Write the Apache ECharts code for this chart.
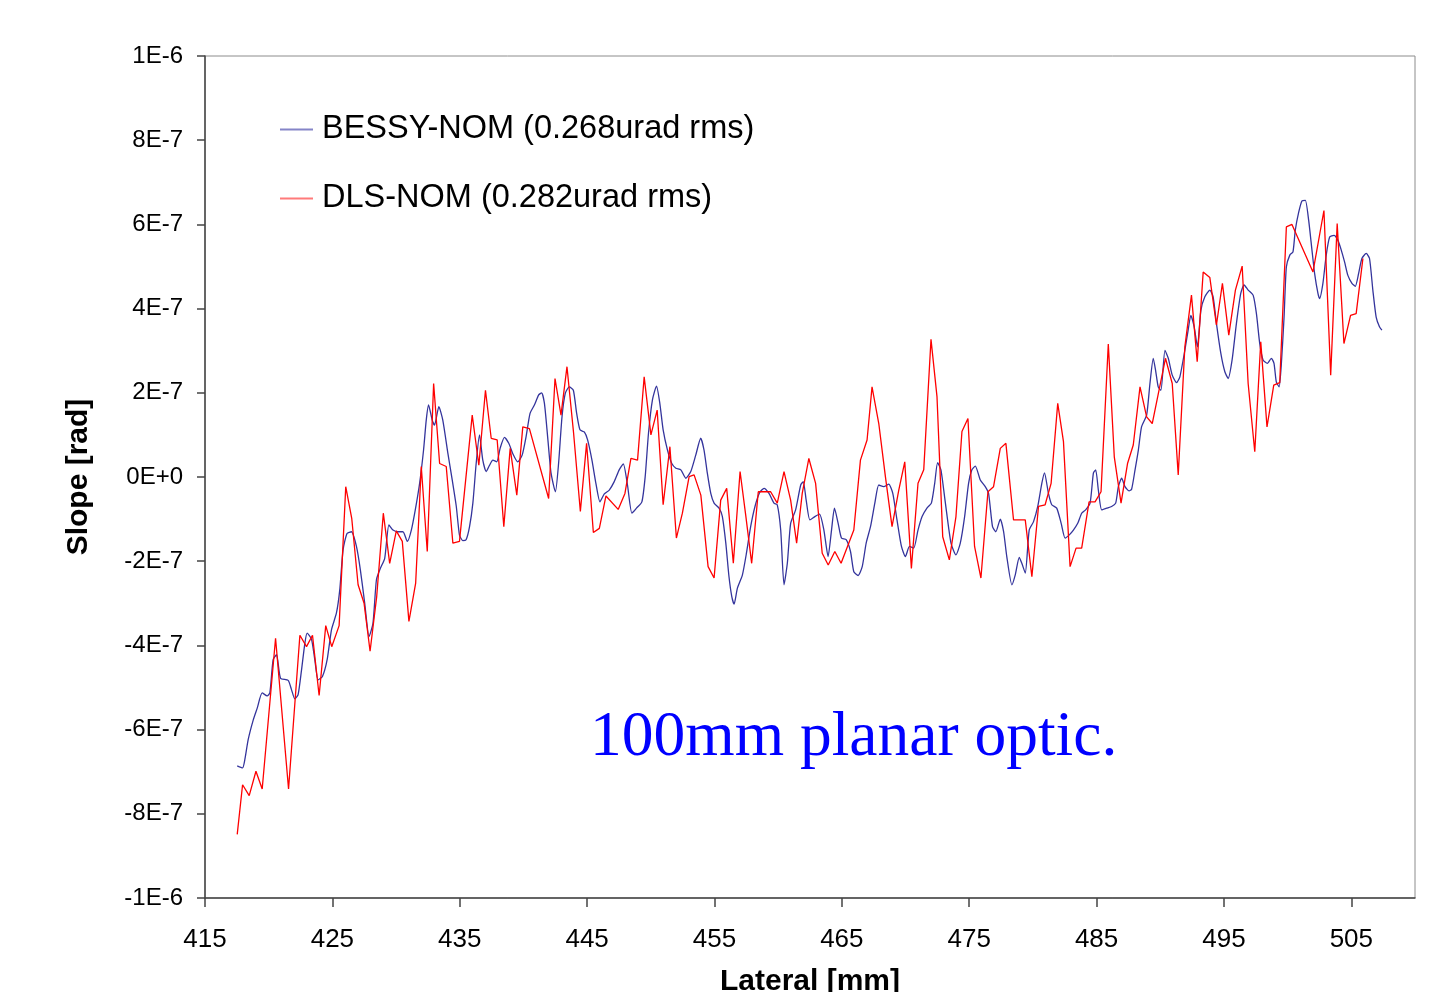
<!DOCTYPE html>
<html lang="en">
<head>
    <meta charset="UTF-8">
    <title>Slope - 100mm planar optic</title>
    <style>
        body,html{
            width: 1443px;
            height: 992px;
            margin: 0;
            background: #fff;
            overflow: hidden;
        }
        #chart{
            width: 1443px;
            height: 992px;
        }
    </style>
</head>
<body>

<div id="chart"></div>

<script src="https://cdn.jsdelivr.net/npm/echarts@6/dist/echarts.min.js"></script>
<script type="text/javascript">

    //x轴刻度
    let xTicks = [415, 425, 435, 445, 455, 465, 475, 485, 495, 505];

    //BESSY-NOM 位置 (mm) 及斜率 (rad)
    let bessyX = [
        417.53,417.95,418.13,418.39,418.79,419.10,419.49,419.88,420.09,420.35,420.62,420.93,421.53,421.79,422.05,422.31,
        422.58,422.84,423.02,423.36,423.62,423.88,424.22,424.59,424.93,425.32,425.58,425.84,426.15,426.50,426.89,427.20,
        427.54,427.88,428.19,428.46,428.77,429.11,429.44,429.76,430.15,430.54,430.89,431.20,431.51,431.85,432.16,432.37,
        432.55,432.84,433.02,433.36,433.67,434.07,434.41,434.73,434.98,435.24,435.50,435.77,436.03,436.29,436.55,436.81,
        437.08,437.34,437.60,437.91,438.17,438.51,438.85,439.16,439.55,439.90,440.21,440.52,440.86,441.20,441.43,441.65,
        441.90,442.17,442.51,442.76,443.03,443.29,443.60,443.92,444.18,444.44,444.78,445.04,445.38,445.69,446.01,446.35,
        446.74,447.13,447.52,447.84,448.17,448.52,448.88,449.30,449.56,449.82,450.13,450.45,450.71,450.97,451.31,451.65,
        451.97,452.36,452.75,453.14,453.53,453.92,454.18,454.44,454.71,454.97,455.36,455.62,455.89,456.14,456.36,456.54,
        456.80,457.19,457.51,457.84,458.18,458.55,458.89,459.28,459.67,459.93,460.20,460.46,460.72,460.98,461.37,461.77,
        461.97,462.20,462.49,462.88,463.25,463.59,463.92,464.19,464.42,464.71,464.97,465.34,465.68,465.94,466.28,466.60,
        466.91,467.25,467.59,467.90,468.29,468.68,469.00,469.33,469.68,469.99,470.31,470.64,470.98,471.30,471.68,472.03,
        472.29,472.52,472.78,473.13,473.57,473.96,474.30,474.64,474.95,475.21,475.48,475.87,476.26,476.52,476.83,477.09,
        477.44,477.70,477.95,478.35,478.61,478.93,479.13,479.40,479.71,480.05,480.38,480.70,480.91,481.22,481.48,481.87,
        482.22,482.53,482.84,483.18,483.52,483.83,484.14,484.49,484.75,484.93,485.14,485.40,485.79,486.18,486.50,486.71,
        486.97,487.23,487.55,487.75,488.02,488.28,488.53,488.93,489.19,489.45,489.63,489.84,490.05,490.37,490.63,490.94,
        491.28,491.54,491.93,492.19,492.40,492.66,492.92,493.19,493.50,493.89,494.15,494.41,494.76,495.07,495.33,495.64,
        495.98,496.32,496.58,496.90,497.29,497.55,497.81,498.07,498.41,498.72,498.93,499.11,499.33,499.51,499.72,499.90,
        500.17,500.42,500.60,500.87,501.13,501.39,501.65,501.91,502.12,502.38,502.51,502.77,503.03,503.30,503.64,503.95,
        504.21,504.47,504.73,505.05,505.31,505.57,505.83,506.17,506.43,506.69,506.95,507.21,507.40
    ];
    let bessyY = [
        -6.86e-7,-6.91e-7,-6.71e-7,-6.24e-7,-5.77e-7,-5.49e-7,-5.13e-7,-5.20e-7,-5.13e-7,-4.34e-7,-4.22e-7,-4.78e-7,-4.83e-7,-5.05e-7,-5.27e-7,-5.17e-7,
        -4.58e-7,-3.95e-7,-3.71e-7,-3.85e-7,-4.34e-7,-4.82e-7,-4.74e-7,-4.34e-7,-3.63e-7,-3.23e-7,-2.68e-7,-1.73e-7,-1.34e-7,-1.30e-7,-1.65e-7,-2.21e-7,
        -3.00e-7,-3.79e-7,-3.47e-7,-2.44e-7,-2.17e-7,-1.93e-7,-1.14e-7,-1.26e-7,-1.30e-7,-1.30e-7,-1.53e-7,-1.26e-7,-0.78e-7,-0.15e-7,0.64e-7,1.35e-7,
        1.71e-7,1.35e-7,1.23e-7,1.67e-7,1.35e-7,0.56e-7,-0.07e-7,-0.70e-7,-1.38e-7,-1.51e-7,-1.49e-7,-1.18e-7,-0.62e-7,0.32e-7,1.00e-7,0.40e-7,
        0.13e-7,0.28e-7,0.40e-7,0.36e-7,0.68e-7,0.94e-7,0.80e-7,0.56e-7,0.36e-7,0.52e-7,0.96e-7,1.51e-7,1.71e-7,1.95e-7,2.00e-7,1.75e-7,
        0.96e-7,0.09e-7,-0.35e-7,0.32e-7,1.43e-7,1.99e-7,2.14e-7,2.06e-7,1.51e-7,1.12e-7,1.07e-7,0.88e-7,0.40e-7,-0.15e-7,-0.59e-7,-0.40e-7,
        -0.31e-7,-0.11e-7,0.17e-7,0.31e-7,-0.19e-7,-0.86e-7,-0.74e-7,-0.59e-7,0.01e-7,1.04e-7,1.83e-7,2.16e-7,1.75e-7,1.12e-7,0.64e-7,0.32e-7,
        0.21e-7,0.17e-7,-0.03e-7,0.13e-7,0.52e-7,0.92e-7,0.64e-7,0.09e-7,-0.39e-7,-0.62e-7,-0.74e-7,-0.94e-7,-1.57e-7,-2.37e-7,-2.84e-7,-3.02e-7,
        -2.64e-7,-2.33e-7,-1.81e-7,-1.18e-7,-0.70e-7,-0.37e-7,-0.27e-7,-0.39e-7,-0.62e-7,-0.66e-7,-1.26e-7,-2.56e-7,-2.05e-7,-1.10e-7,-0.78e-7,-0.19e-7,
        -0.11e-7,-0.55e-7,-1.02e-7,-0.94e-7,-0.88e-7,-1.26e-7,-1.89e-7,-1.26e-7,-0.74e-7,-1.10e-7,-1.45e-7,-1.49e-7,-1.77e-7,-2.25e-7,-2.34e-7,-2.13e-7,
        -1.57e-7,-1.18e-7,-0.62e-7,-0.19e-7,-0.23e-7,-0.17e-7,-0.39e-7,-1.02e-7,-1.65e-7,-1.89e-7,-1.65e-7,-1.69e-7,-1.26e-7,-0.94e-7,-0.74e-7,-0.62e-7,
        -0.15e-7,0.34e-7,0.17e-7,-0.62e-7,-1.57e-7,-1.85e-7,-1.57e-7,-0.94e-7,-0.15e-7,0.17e-7,0.26e-7,-0.07e-7,-0.23e-7,-0.39e-7,-1.18e-7,-1.30e-7,
        -1.00e-7,-1.30e-7,-1.89e-7,-2.56e-7,-2.33e-7,-1.91e-7,-2.05e-7,-2.28e-7,-1.26e-7,-1.06e-7,-0.70e-7,-0.15e-7,0.10e-7,-0.39e-7,-0.66e-7,-0.74e-7,
        -1.10e-7,-1.45e-7,-1.38e-7,-1.26e-7,-1.10e-7,-0.86e-7,-0.78e-7,-0.62e-7,0.09e-7,0.17e-7,-0.31e-7,-0.78e-7,-0.74e-7,-0.70e-7,-0.62e-7,-0.23e-7,
        -0.03e-7,-0.23e-7,-0.33e-7,-0.29e-7,0.17e-7,0.64e-7,1.19e-7,1.47e-7,2.22e-7,2.82e-7,2.54e-7,2.14e-7,2.06e-7,3.01e-7,2.82e-7,2.42e-7,
        2.24e-7,2.38e-7,3.01e-7,3.49e-7,3.84e-7,3.57e-7,3.09e-7,3.96e-7,4.28e-7,4.44e-7,4.28e-7,3.65e-7,2.93e-7,2.50e-7,2.34e-7,2.78e-7,
        3.65e-7,4.36e-7,4.56e-7,4.44e-7,4.32e-7,3.88e-7,3.17e-7,2.78e-7,2.70e-7,2.82e-7,2.70e-7,2.26e-7,2.14e-7,2.70e-7,3.80e-7,4.99e-7,
        5.27e-7,5.35e-7,5.86e-7,6.29e-7,6.56e-7,6.57e-7,6.10e-7,5.39e-7,4.83e-7,4.36e-7,4.24e-7,4.60e-7,5.27e-7,5.70e-7,5.74e-7,5.62e-7,
        5.39e-7,5.11e-7,4.79e-7,4.60e-7,4.53e-7,4.83e-7,5.19e-7,5.31e-7,5.19e-7,4.44e-7,3.80e-7,3.57e-7,3.49e-7
    ];

    //DLS-NOM 位置 (mm) 及斜率 (rad)
    let dlsX = [
        417.53,417.95,418.47,419.00,419.49,420.54,421.56,422.45,422.97,423.44,423.96,424.48,424.95,425.53,426.05,426.52,
        427.02,427.49,427.96,428.48,429.00,429.50,430.02,430.49,431.01,431.54,431.98,432.45,432.95,433.42,433.94,434.46,
        434.98,435.98,436.50,437.02,437.47,437.94,438.46,438.96,439.48,439.95,440.47,441.98,442.48,442.95,443.42,443.94,
        444.47,444.96,445.49,445.96,446.48,447.44,447.97,448.44,448.96,449.48,450.01,450.50,450.97,451.50,452.01,452.48,
        453.01,453.40,453.93,454.50,454.97,455.49,455.96,456.48,457.01,457.45,457.92,458.44,459.41,459.93,460.46,460.98,
        461.45,461.89,462.41,462.94,463.46,463.93,464.45,464.94,465.94,466.46,466.98,467.37,467.90,468.42,468.94,469.47,
        469.94,470.46,470.98,471.43,472.00,472.47,472.92,473.44,473.96,474.43,474.90,475.42,475.92,476.47,476.91,477.44,
        477.88,478.48,479.40,479.92,480.44,480.96,481.43,481.95,482.40,482.92,483.39,483.83,484.41,484.88,485.35,485.92,
        486.39,486.92,487.43,487.88,488.41,488.93,489.37,490.41,490.94,491.41,491.93,492.45,492.90,493.37,493.89,494.41,
        494.88,495.38,495.90,496.43,496.90,497.42,497.89,498.38,498.91,499.38,499.90,500.34,501.99,502.85,503.38,503.89,
        504.42,504.94,505.38,505.91
    ];
    let dlsY = [
        -8.49e-7,-7.31e-7,-7.57e-7,-6.99e-7,-7.41e-7,-3.83e-7,-7.41e-7,-3.76e-7,-4.03e-7,-3.76e-7,-5.19e-7,-3.53e-7,-4.03e-7,-3.53e-7,-0.23e-7,-0.98e-7,
        -2.56e-7,-3.00e-7,-4.14e-7,-2.84e-7,-0.86e-7,-2.05e-7,-1.28e-7,-1.53e-7,-3.43e-7,-2.52e-7,0.25e-7,-1.77e-7,2.22e-7,0.32e-7,0.25e-7,-1.57e-7,
        -1.53e-7,1.47e-7,0.28e-7,2.06e-7,0.92e-7,0.88e-7,-1.18e-7,0.68e-7,-0.43e-7,1.19e-7,1.15e-7,-0.51e-7,2.34e-7,1.47e-7,2.62e-7,1.04e-7,
        -0.82e-7,0.80e-7,-1.32e-7,-1.22e-7,-0.45e-7,-0.77e-7,-0.39e-7,0.44e-7,0.40e-7,2.38e-7,1.00e-7,1.59e-7,-0.66e-7,0.72e-7,-1.45e-7,-0.86e-7,
        0.01e-7,0.05e-7,-0.43e-7,-2.13e-7,-2.40e-7,-0.55e-7,-0.27e-7,-2.05e-7,0.13e-7,-0.90e-7,-2.05e-7,-0.35e-7,-0.35e-7,-0.62e-7,0.13e-7,-0.55e-7,
        -1.57e-7,-0.39e-7,0.44e-7,-0.15e-7,-1.81e-7,-2.09e-7,-1.77e-7,-2.05e-7,-1.26e-7,0.40e-7,0.88e-7,2.14e-7,1.27e-7,0.01e-7,-1.18e-7,-0.31e-7,
        0.36e-7,-2.17e-7,-0.15e-7,0.17e-7,3.27e-7,1.91e-7,-1.42e-7,-1.97e-7,-0.94e-7,1.08e-7,1.39e-7,-1.65e-7,-2.40e-7,-0.35e-7,-0.23e-7,0.68e-7,
        0.80e-7,-1.02e-7,-1.02e-7,-2.37e-7,-0.70e-7,-0.66e-7,-0.15e-7,1.75e-7,0.84e-7,-2.13e-7,-1.69e-7,-1.69e-7,-0.59e-7,-0.59e-7,-0.35e-7,3.16e-7,
        0.48e-7,-0.62e-7,0.32e-7,0.76e-7,2.14e-7,1.43e-7,1.27e-7,2.82e-7,2.22e-7,0.05e-7,3.09e-7,4.32e-7,2.74e-7,4.87e-7,4.74e-7,3.61e-7,
        4.60e-7,3.37e-7,4.44e-7,5.01e-7,2.22e-7,0.60e-7,3.21e-7,1.19e-7,2.18e-7,2.24e-7,5.94e-7,6.00e-7,4.87e-7,6.33e-7,2.42e-7,6.02e-7,
        3.17e-7,3.84e-7,3.88e-7,5.19e-7
    ];

    let seriesNames = ['BESSY-NOM (0.268urad rms)', 'DLS-NOM (0.282urad rms)'];
    let note = '100mm planar optic.';

    //把 x,y 两个数组拼成点对
    function pairs(xs, ys) {
        let out = [];
        for(let i=0;i<xs.length;i++){
            out.push([xs[i], ys[i]]);
        }
        return out;
    }

    //Excel 风格的科学计数法：1E-6, 0E+0
    function sci(v) {
        if (Math.abs(v) < 1e-12) {
            return '0E+0';
        }
        let e = Math.floor(Math.log10(Math.abs(v)) + 1e-9);
        let m = Math.round(v / Math.pow(10, e));
        return m + 'E' + (e < 0 ? '-' : '+') + Math.abs(e);
    }

    let chartbox = document.getElementById("chart"),
        myChart = echarts.init(chartbox, null, {renderer: 'canvas'});

    let font = 'Liberation Sans';

    let option = {
        animation: false,
        backgroundColor: '#fff',
        grid: {
            left: 205,
            top: 56,
            right: 28,
            bottom: 94,
            outerBoundsMode: 'none',
            containLabel: false,
            show: true,
            borderColor: '#8c8c8c',
            borderWidth: 1
        },
        legend: {
            orient: 'vertical',
            left: 280,
            top: 113,
            padding: 0,
            itemGap: 36,
            itemWidth: 33,
            itemHeight: 2,
            icon: 'rect',
            textStyle: {
                fontFamily: font,
                fontSize: 32.5,
                color: '#000',
                padding: [0, 0, 0, 4]
            },
            data: [
                {name: seriesNames[0], itemStyle: {color: '#8585c8'}},
                {name: seriesNames[1], itemStyle: {color: '#ff7a7a'}}
            ]
        },
        xAxis: {
            type: 'value',
            min: xTicks[0],
            max: 510,
            interval: 10,
            name: 'Lateral [mm]',
            nameLocation: 'middle',
            nameGap: 69,
            nameTextStyle: {
                fontFamily: font,
                fontSize: 30,
                fontWeight: 'bold',
                color: '#000'
            },
            axisLine: {show: true, onZero: false, lineStyle: {color: '#444', width: 1.5}},
            axisTick: {show: true, inside: false, length: 9, lineStyle: {color: '#444', width: 1.5}},
            axisLabel: {
                margin: 29,
                fontFamily: font,
                fontSize: 26,
                color: '#000',
                showMaxLabel: false
            },
            splitLine: {show: false}
        },
        yAxis: {
            type: 'value',
            min: -1e-6,
            max: 1e-6,
            interval: 2e-7,
            name: 'Slope [rad]',
            nameLocation: 'middle',
            nameGap: 111,
            nameTextStyle: {
                fontFamily: font,
                fontSize: 30,
                fontWeight: 'bold',
                color: '#000'
            },
            axisLine: {show: true, onZero: false, lineStyle: {color: '#444', width: 1.5}},
            axisTick: {show: true, inside: false, length: 8, lineStyle: {color: '#444', width: 1.5}},
            axisLabel: {
                margin: 22,
                fontFamily: font,
                fontSize: 24,
                color: '#000',
                formatter: sci
            },
            splitLine: {show: false}
        },
        graphic: [
            {
                type: 'text',
                x: 590,
                y: 738,
                style: {
                    text: note,
                    fontFamily: 'Liberation Serif',
                    fontSize: 63.5,
                    fill: '#0000ff',
                    verticalAlign: 'middle'
                }
            }
        ],
        series: [
            {
                name: seriesNames[0],
                type: 'line',
                data: pairs(bessyX, bessyY),
                showSymbol: false,
                smooth: 0.2,
                lineStyle: {color: '#34349c', width: 1.3},
                itemStyle: {color: '#34349c'},
                z: 2
            },
            {
                name: seriesNames[1],
                type: 'line',
                data: pairs(dlsX, dlsY),
                showSymbol: false,
                lineStyle: {color: '#ff0000', width: 1.3},
                itemStyle: {color: '#ff0000'},
                z: 3
            }
        ]
    };
    myChart.setOption(option);
</script>
</body>
</html>
